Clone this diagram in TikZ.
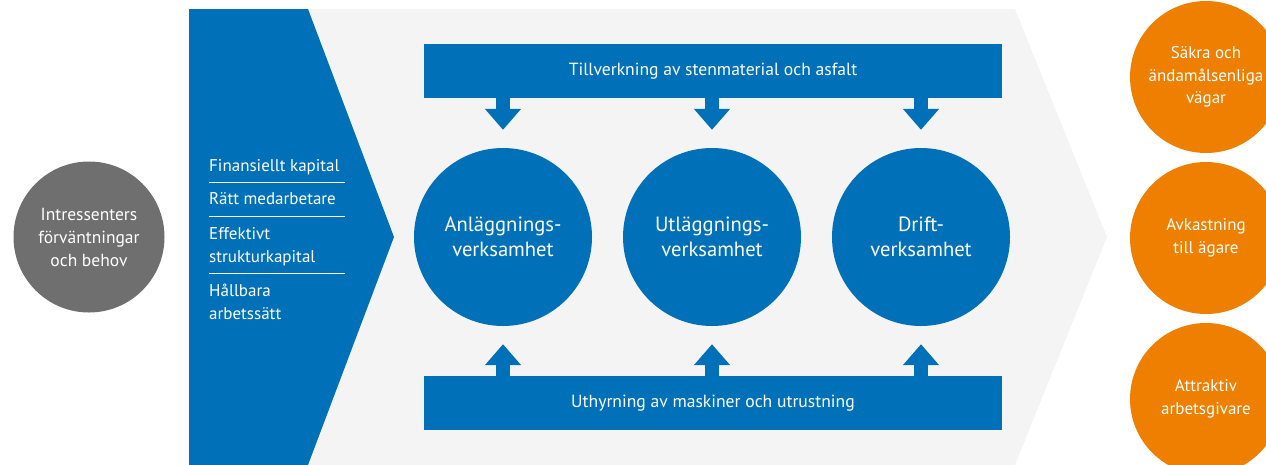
\documentclass[tikz,border=0pt]{standalone}
\usepackage{fontspec}
\setmainfont{PT Sans}
\usetikzlibrary{arrows.meta}
\definecolor{sblue}{HTML}{0070B8}
\definecolor{sgray}{HTML}{6F6F6F}
\definecolor{sorange}{HTML}{EE7F00}
\definecolor{sbg}{HTML}{F4F4F4}
\begin{document}
\begin{tikzpicture}[x=1pt,y=-1pt,
  txt/.style={text=white, font=\fontsize{17}{23}\selectfont, align=center, inner sep=0pt},
  bartxt/.style={text=white, font=\fontsize{17.6}{23}\selectfont, align=center, inner sep=0pt},
  bigtxt/.style={text=white, font=\fontsize{20.6}{25}\selectfont, align=center, inner sep=0pt},
  listtxt/.style={text=white, font=\fontsize{17}{23}\selectfont, inner sep=0pt, anchor=base west},
  bluecirc/.style={circle, fill=sblue, minimum size=178pt, bigtxt},
  orcirc/.style={circle, fill=sorange, minimum size=152pt, txt},
  bar/.style={fill=sblue, minimum width=578pt, minimum height=54pt, bartxt},
  blockarr/.style={draw=sblue, line width=14pt, -{Triangle[width=35pt,length=21pt]}, shorten >=18pt},
  sep/.style={draw=white, line width=1pt}
]
\useasboundingbox (0,0) rectangle (1266,464);
\clip (0,0) rectangle (1266,464);
% background chevrons
\fill[sbg] (189,9) -- (1015,9) -- (1107,237) -- (1015,465) -- (189,465) -- cycle;
\fill[sblue] (189,9) -- (308,9) -- (394,237) -- (308,465) -- (189,465) -- cycle;
% left circle
\node[circle, fill=sgray, minimum size=151pt, txt, font=\fontsize{17.5}{23}\selectfont] (stake) at (89,237) {Intressenters\\förväntningar\\och behov};
% list
\node[listtxt] (l1) at (209,171) {Finansiellt kapital};
\node[listtxt] (l2) at (209,204) {Rätt medarbetare};
\node[listtxt] (l3a) at (209,239) {Effektivt};
\node[listtxt] (l3b) at (209,262) {strukturkapital};
\node[listtxt] (l4a) at (209,296) {Hållbara};
\node[listtxt] (l4b) at (209,319) {arbetssätt};
\coordinate (s1a) at (209,182); \coordinate (s1b) at (345,182);
\coordinate (s2a) at (209,216); \coordinate (s2b) at (345,216);
\coordinate (s3a) at (209,273); \coordinate (s3b) at (345,273);
\draw[sep] (s1a) -- (s1b);
\draw[sep] (s2a) -- (s2b);
\draw[sep] (s3a) -- (s3b);
% bars
\node[bar] (top) at (713,71) {Tillverkning av stenmaterial och asfalt};
\node[bar] (bot) at (713,403) {Uthyrning av maskiner och utrustning};
% blue circles
\node[bluecirc] (c1) at (503,237) {Anläggnings-\\verksamhet};
\node[bluecirc] (c2) at (712,237) {Utläggnings-\\verksamhet};
\node[bluecirc] (c3) at (921,237) {Drift-\\verksamhet};
% arrows
\foreach \c in {c1,c2,c3}{
  \draw[blockarr] (\c |- top.south) -- (\c.north);
  \draw[blockarr] (\c |- bot.north) -- (\c.south);
}
% orange circles
\node[orcirc, font=\fontsize{17}{22.5}\selectfont] (o1) at (1206,77) {Säkra och\\ändamålsenliga\\vägar};
\node[orcirc, font=\fontsize{17}{22.5}\selectfont] (o2) at (1206,238) {Avkastning\\till ägare};
\node[orcirc, font=\fontsize{17}{22.5}\selectfont] (o3) at (1206,399) {Attraktiv\\arbetsgivare};
\end{tikzpicture}
\end{document}
